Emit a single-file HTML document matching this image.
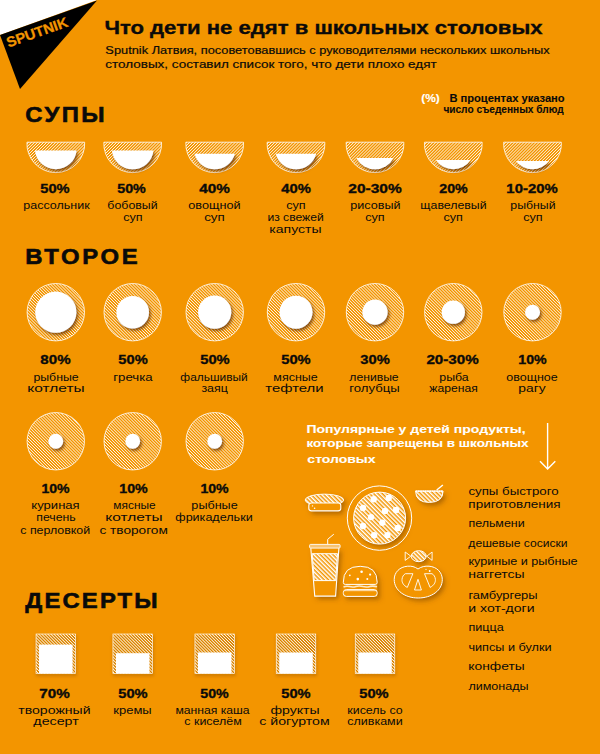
<!DOCTYPE html>
<html><head><meta charset="utf-8"><style>
html,body{margin:0;padding:0;width:600px;height:754px;overflow:hidden;background:#F39500;}
svg{display:block;font-family:"Liberation Sans", sans-serif;}
</style></head><body>
<svg width="600" height="754" viewBox="0 0 600 754"><defs>
<pattern id="hs" width="2.15" height="20" patternUnits="userSpaceOnUse" patternTransform="rotate(45)"><rect x="0" y="0" width="0.65" height="20" fill="#fff"/></pattern>
<pattern id="hb" width="2.15" height="20" patternUnits="userSpaceOnUse" patternTransform="rotate(-45)"><rect x="0" y="0" width="0.65" height="20" fill="#fff"/></pattern>
<pattern id="hb2" width="3" height="20" patternUnits="userSpaceOnUse" patternTransform="rotate(-45)"><rect x="0" y="0" width="1.5" height="20" fill="#fff"/></pattern>
<filter id="sh" x="-50%" y="-50%" width="200%" height="200%"><feDropShadow dx="1.6" dy="2.1" stdDeviation="1.7" flood-color="#6b3500" flood-opacity="0.8"/></filter>
<filter id="sh2" x="-50%" y="-50%" width="200%" height="200%"><feDropShadow dx="0.6" dy="2" stdDeviation="1.5" flood-color="#6b3500" flood-opacity="0.6"/></filter>
<filter id="ish" x="-30%" y="-30%" width="160%" height="160%"><feDropShadow dx="2.5" dy="3" stdDeviation="2.6" flood-color="#6b3500" flood-opacity="0.5"/></filter>
</defs>
<rect x="0" y="0" width="600" height="754" fill="#F39500"/>
<polygon points="0,0 97,0 0,35" fill="#fff"/>
<polygon points="0,35 97,0.5 20,89" fill="#000"/>
<text x="0" y="0" font-size="14.2" font-weight="bold" fill="#F39500" stroke="#F39500" stroke-width="0.3" transform="translate(8.5,47.6) rotate(-19.5)" textLength="64" lengthAdjust="spacingAndGlyphs">SPUTNIK</text>
<path d="M26.94,142.2 L84.66,142.2 A28.9,28.9 0 1 1 26.94,142.2 Z" fill="url(#hs)" stroke="#fff" stroke-width="0.8"/>
<path d="M35.00,150.4 L76.60,150.4 A20.9,20.9 0 0 1 35.00,150.4 Z" fill="#fff" filter="url(#sh)"/>
<path d="M103.84,142.2 L161.56,142.2 A28.9,28.9 0 1 1 103.84,142.2 Z" fill="url(#hs)" stroke="#fff" stroke-width="0.8"/>
<path d="M111.91,150.5 L153.49,150.5 A20.9,20.9 0 0 1 111.91,150.5 Z" fill="#fff" filter="url(#sh)"/>
<path d="M185.84,142.2 L243.56,142.2 A28.9,28.9 0 1 1 185.84,142.2 Z" fill="url(#hs)" stroke="#fff" stroke-width="0.8"/>
<path d="M194.50,153.75 L234.90,153.75 A20.9,20.9 0 0 1 194.50,153.75 Z" fill="#fff" filter="url(#sh)"/>
<path d="M267.14,142.2 L324.86,142.2 A28.9,28.9 0 1 1 267.14,142.2 Z" fill="url(#hs)" stroke="#fff" stroke-width="0.8"/>
<path d="M275.80,153.75 L316.20,153.75 A20.9,20.9 0 0 1 275.80,153.75 Z" fill="#fff" filter="url(#sh)"/>
<path d="M346.14,142.2 L403.86,142.2 A28.9,28.9 0 1 1 346.14,142.2 Z" fill="url(#hs)" stroke="#fff" stroke-width="0.8"/>
<path d="M356.44,158 L393.56,158 A20.9,20.9 0 0 1 356.44,158 Z" fill="#fff" filter="url(#sh)"/>
<path d="M424.44,142.2 L482.16,142.2 A28.9,28.9 0 1 1 424.44,142.2 Z" fill="url(#hs)" stroke="#fff" stroke-width="0.8"/>
<path d="M435.91,160 L470.69,160 A20.9,20.9 0 0 1 435.91,160 Z" fill="#fff" filter="url(#sh)"/>
<path d="M503.64,142.2 L561.36,142.2 A28.9,28.9 0 1 1 503.64,142.2 Z" fill="url(#hs)" stroke="#fff" stroke-width="0.8"/>
<path d="M515.83,161 L549.17,161 A20.9,20.9 0 0 1 515.83,161 Z" fill="#fff" filter="url(#sh)"/>
<circle cx="55.8" cy="312.2" r="28.7" fill="url(#hb)" stroke="#fff" stroke-width="0.8"/>
<circle cx="55.8" cy="312.2" r="20.6" fill="#fff" filter="url(#sh)"/>
<circle cx="132.7" cy="312.2" r="28.7" fill="url(#hb)" stroke="#fff" stroke-width="0.8"/>
<circle cx="132.7" cy="312.2" r="16.3" fill="#fff" filter="url(#sh)"/>
<circle cx="214.7" cy="312.2" r="28.7" fill="url(#hb)" stroke="#fff" stroke-width="0.8"/>
<circle cx="214.7" cy="312.2" r="16.6" fill="#fff" filter="url(#sh)"/>
<circle cx="296.0" cy="312.2" r="28.7" fill="url(#hb)" stroke="#fff" stroke-width="0.8"/>
<circle cx="296.0" cy="312.2" r="16.5" fill="#fff" filter="url(#sh)"/>
<circle cx="375.0" cy="312.2" r="28.7" fill="url(#hb)" stroke="#fff" stroke-width="0.8"/>
<circle cx="375.0" cy="312.2" r="12.6" fill="#fff" filter="url(#sh)"/>
<circle cx="453.3" cy="312.2" r="28.7" fill="url(#hb)" stroke="#fff" stroke-width="0.8"/>
<circle cx="453.3" cy="312.2" r="11.6" fill="#fff" filter="url(#sh)"/>
<circle cx="532.5" cy="312.2" r="28.7" fill="url(#hb)" stroke="#fff" stroke-width="0.8"/>
<circle cx="532.5" cy="312.2" r="7.5" fill="#fff" filter="url(#sh)"/>
<circle cx="55.8" cy="441.25" r="28.7" fill="url(#hb)" stroke="#fff" stroke-width="0.8"/>
<circle cx="55.8" cy="441.25" r="7.4" fill="#fff" filter="url(#sh)"/>
<circle cx="132.7" cy="441.25" r="28.7" fill="url(#hb)" stroke="#fff" stroke-width="0.8"/>
<circle cx="132.7" cy="441.25" r="7.4" fill="#fff" filter="url(#sh)"/>
<circle cx="214.7" cy="441.25" r="28.7" fill="url(#hb)" stroke="#fff" stroke-width="0.8"/>
<circle cx="214.7" cy="441.25" r="7.4" fill="#fff" filter="url(#sh)"/>
<rect x="36.05" y="634" width="39.5" height="39.5" fill="url(#hb)" stroke="#fff" stroke-width="0.6" filter="url(#sh2)"/>
<rect x="39.05" y="644.6" width="33.5" height="28.899999999999977" fill="#fff"/>
<rect x="112.94999999999999" y="634" width="39.5" height="39.5" fill="url(#hb)" stroke="#fff" stroke-width="0.6" filter="url(#sh2)"/>
<rect x="115.94999999999999" y="653.2" width="33.5" height="20.299999999999955" fill="#fff"/>
<rect x="194.95" y="634" width="39.5" height="39.5" fill="url(#hb)" stroke="#fff" stroke-width="0.6" filter="url(#sh2)"/>
<rect x="197.95" y="652.5" width="33.5" height="21.0" fill="#fff"/>
<rect x="276.25" y="634" width="39.5" height="39.5" fill="url(#hb)" stroke="#fff" stroke-width="0.6" filter="url(#sh2)"/>
<rect x="279.25" y="652.5" width="33.5" height="21.0" fill="#fff"/>
<rect x="355.25" y="634" width="39.5" height="39.5" fill="url(#hb)" stroke="#fff" stroke-width="0.6" filter="url(#sh2)"/>
<rect x="358.25" y="652.5" width="33.5" height="21.0" fill="#fff"/>
<path d="M547.6,423 L547.6,469 M540,461.2 L547.6,469 L555.3,461.2" stroke="#fff" stroke-width="1.4" fill="none"/>
<g fill="#F39500" filter="url(#ish)">
 <ellipse cx="324.4" cy="500" rx="19.3" ry="5.9"/>
 <rect x="308.8" y="503" width="32" height="7.9" rx="2.6"/>
 <circle cx="379.6" cy="518.1" r="26"/>
 <path d="M415.6,491 L443.1,491 Q443,502.4 429.3,502.4 Q415.7,502.4 415.6,491 Z"/>
 <path d="M310.8,548.1 L314.75,596.1 L335.6,596.1 L338.9,548.1 Z"/>
 <path d="M343.3,582.4 Q343.1,566.3 360.2,566.3 Q377.3,566.3 377.2,582.4 L377.2,596.4 L343.3,596.4 Z"/>
 <ellipse cx="418.75" cy="556.2" rx="7.5" ry="5.5"/>
 <path d="M418,569 C414.5,566.5 411.5,566 407.7,566.2 C399.5,566.8 394.2,572.5 394.2,579.5 C394.2,590.5 405,598 418.2,598 C431.5,598 442.3,590.5 442.3,579.5 C442.3,572.5 437,566.8 429,566.2 C425,566 421.5,566.5 418,569 Z"/>
</g>
<g>
<g stroke="#fff" stroke-width="0.9" fill="none">
 <!-- hot dog -->
 <ellipse cx="324.4" cy="500" rx="19.3" ry="5.9" fill="url(#hb2)"/>
 <rect x="308.8" y="503" width="32" height="7.9" rx="2.6" fill="#F39500" stroke-width="1.1"/>
 <!-- pizza -->
 <circle cx="379.5" cy="518.1" r="32.2" stroke-width="1"/>
 <circle cx="379.6" cy="518.1" r="26" fill="url(#hb2)" stroke-width="1"/>
 <!-- bowl -->
 <path d="M415.6,491 L443.1,491 Q443,502.4 429.3,502.4 Q415.7,502.4 415.6,491 Z" fill="url(#hb2)" stroke-width="1"/>
 <path d="M415.6,491.3 L443.1,491.3" stroke-width="1.6" stroke-dasharray="1.6,0.7"/>
 <path d="M436.7,490 L442.9,485" stroke-width="1.4"/>
 <!-- cup -->
 <rect x="309.6" y="544.4" width="30.5" height="3.7" rx="1" fill="rgba(255,255,255,0.45)" stroke-width="0.9"/>
 <path d="M310.8,548.1 L314.75,596.1 L335.6,596.1 L338.9,548.1" stroke-width="1.1"/>
 <path d="M312.2,553.7 L337.5,553.7 L335.7,580.6 L314.2,580.6 Z" fill="url(#hb2)" stroke-width="1"/>
 <path d="M327.7,544.4 L327.7,539.3 L333.8,534.2" stroke-width="1"/>
 <!-- burger -->
 <path d="M343.3,582.4 Q343.1,566.3 360.2,566.3 Q377.3,566.3 377.2,582.4 Q377.2,584.4 375.2,584.4 L345.3,584.4 Q343.3,584.4 343.3,582.4 Z" stroke-width="1"/>
 <path d="M343.5,587 Q346.5,585.8 349.5,586.6 Q353,587.6 356,586.4 Q359.5,585.4 363,586.6 Q366.5,587.6 370,586.4 Q373.5,585.6 377,586.8" stroke-width="1.6" stroke="rgba(255,255,255,0.8)"/>
 <rect x="343.3" y="589.6" width="33.9" height="6.8" rx="3" stroke-width="1"/>
 <path d="M344.5,590.6 L376,590.6" stroke-width="1.2" stroke="rgba(255,255,255,0.6)"/>
 <!-- candy -->
 <ellipse cx="418.75" cy="556.2" rx="7.5" ry="5.5" fill="url(#hb2)" stroke-width="1"/>
 <path d="M410.8,556.2 L405.2,552 L405.2,560.4 Z M426.8,556.2 L432.1,552 L432.1,560.4 Z" stroke-width="0.9"/>
 <!-- pretzel -->
 <path d="M418,569 C414.5,566.5 411.5,566 407.7,566.2 C399.5,566.8 394.2,572.5 394.2,579.5 C394.2,590.5 405,598 418.2,598 C431.5,598 442.3,590.5 442.3,579.5 C442.3,572.5 437,566.8 429,566.2 C425,566 421.5,566.5 418,569 Z" stroke-width="1"/>
 <path d="M405.4,573.7 L412.9,573.7 L407.3,587.4 C403.5,585.5 401.8,582.5 402,579.5 C402.2,576.8 403.5,574.7 405.4,573.7 Z" stroke-width="0.9"/>
 <path d="M432,573.7 L424.5,573.7 L430.1,587.4 C433.9,585.5 435.6,582.5 435.4,579.5 C435.2,576.8 433.9,574.7 432,573.7 Z" stroke-width="0.9"/>
 <path d="M418,579.3 L414.5,590 L421.4,590 Z" stroke-width="0.9" stroke-linejoin="round"/>
</g>
<g fill="#fff">
 <circle cx="312.5" cy="505.9" r="0.7"/><circle cx="314.6" cy="508.2" r="0.8"/>
 <circle cx="373.7" cy="499.3" r="3.2"/><circle cx="388.7" cy="498" r="3.2"/><circle cx="363" cy="508" r="3.2"/>
 <circle cx="385" cy="510.9" r="3.2"/><circle cx="396.1" cy="510" r="3.2"/><circle cx="371" cy="517.1" r="3.2"/>
 <circle cx="382.3" cy="522.7" r="3.2"/><circle cx="363" cy="526" r="3.2"/><circle cx="397.7" cy="528" r="3.2"/>
 <circle cx="374.1" cy="535.3" r="3.2"/><circle cx="387.4" cy="535.1" r="3.2"/>
 <circle cx="361.6" cy="571.8" r="1.3"/><circle cx="349.8" cy="575.3" r="0.9"/><circle cx="370.1" cy="574.6" r="1.1"/>
 <circle cx="357.8" cy="579.1" r="1.3"/><circle cx="367.3" cy="579.1" r="1"/>
 <circle cx="426" cy="569.3" r="0.6"/><circle cx="429.7" cy="571" r="0.9"/>
</g>
</g>

<text id="t0" x="104.40" y="34.2" font-size="18.5" font-weight="bold" fill="#0a0a0a" stroke="#0a0a0a" stroke-width="0.35" textLength="438.21" lengthAdjust="spacingAndGlyphs">Что дети не едят в школьных столовых</text>
<text id="t1" x="105.39" y="53.5" font-size="11.5" font-weight="normal" fill="#0a0a0a" stroke="#0a0a0a" stroke-width="0.2" textLength="444.22" lengthAdjust="spacingAndGlyphs">Sputnik Латвия, посоветовавшись с руководителями нескольких школьных</text>
<text id="t2" x="105.38" y="68" font-size="11.5" font-weight="normal" fill="#0a0a0a" stroke="#0a0a0a" stroke-width="0.2" textLength="331.22" lengthAdjust="spacingAndGlyphs">столовых, составил список того, что дети плохо едят</text>
<text id="t3" x="421.26" y="102" font-size="10.5" font-weight="bold" fill="#fff" stroke="#fff" stroke-width="0.1" textLength="18.62" lengthAdjust="spacingAndGlyphs">(%)</text>
<text id="t4" x="449.40" y="101.5" font-size="10" font-weight="bold" fill="#0a0a0a" stroke="#0a0a0a" stroke-width="0.1" textLength="115.21" lengthAdjust="spacingAndGlyphs">В процентах указано</text>
<text id="t5" x="443.40" y="113" font-size="10" font-weight="bold" fill="#0a0a0a" stroke="#0a0a0a" stroke-width="0.1" textLength="120.20" lengthAdjust="spacingAndGlyphs">число съеденных блюд</text>
<g transform="translate(25.35,0) scale(1.06,1)"><text id="t6" x="0" y="121.7" font-size="22.5" font-weight="bold" fill="#0a0a0a" stroke="#0a0a0a" stroke-width="0.6" textLength="74.84" lengthAdjust="spacing">СУПЫ</text></g>
<g transform="translate(25.36,0) scale(1.06,1)"><text id="t7" x="0" y="263.75" font-size="22.5" font-weight="bold" fill="#0a0a0a" stroke="#0a0a0a" stroke-width="0.6" textLength="105.94" lengthAdjust="spacing">ВТОРОЕ</text></g>
<g transform="translate(25.37,0) scale(1.06,1)"><text id="t8" x="0" y="608" font-size="22.5" font-weight="bold" fill="#0a0a0a" stroke="#0a0a0a" stroke-width="0.6" textLength="124.78" lengthAdjust="spacing">ДЕСЕРТЫ</text></g>
<text id="t9" x="40.28" y="193" font-size="13" font-weight="bold" fill="#0a0a0a" stroke="#0a0a0a" stroke-width="0.35" textLength="29.34" lengthAdjust="spacingAndGlyphs">50%</text>
<text id="t10" x="23.38" y="208.75" font-size="10.5" font-weight="normal" fill="#0a0a0a" stroke="#0a0a0a" stroke-width="0.0" textLength="66.27" lengthAdjust="spacingAndGlyphs">рассольник</text>
<text id="t11" x="117.19" y="193" font-size="13" font-weight="bold" fill="#0a0a0a" stroke="#0a0a0a" stroke-width="0.35" textLength="28.63" lengthAdjust="spacingAndGlyphs">50%</text>
<text id="t12" x="107.36" y="208.75" font-size="10.5" font-weight="normal" fill="#0a0a0a" stroke="#0a0a0a" stroke-width="0.0" textLength="50.30" lengthAdjust="spacingAndGlyphs">бобовый</text>
<text id="t13" x="123.19" y="220.5" font-size="10.5" font-weight="normal" fill="#0a0a0a" stroke="#0a0a0a" stroke-width="0.0" textLength="19.39" lengthAdjust="spacingAndGlyphs">суп</text>
<text id="t14" x="199.18" y="193" font-size="13" font-weight="bold" fill="#0a0a0a" stroke="#0a0a0a" stroke-width="0.35" textLength="30.67" lengthAdjust="spacingAndGlyphs">40%</text>
<text id="t15" x="188.29" y="208.75" font-size="10.5" font-weight="normal" fill="#0a0a0a" stroke="#0a0a0a" stroke-width="0.0" textLength="52.36" lengthAdjust="spacingAndGlyphs">овощной</text>
<text id="t16" x="204.20" y="220.5" font-size="10.5" font-weight="normal" fill="#0a0a0a" stroke="#0a0a0a" stroke-width="0.0" textLength="20.59" lengthAdjust="spacingAndGlyphs">суп</text>
<text id="t17" x="281.22" y="193" font-size="13" font-weight="bold" fill="#0a0a0a" stroke="#0a0a0a" stroke-width="0.35" textLength="29.58" lengthAdjust="spacingAndGlyphs">40%</text>
<text id="t18" x="286.23" y="208.75" font-size="10.5" font-weight="normal" fill="#0a0a0a" stroke="#0a0a0a" stroke-width="0.0" textLength="19.50" lengthAdjust="spacingAndGlyphs">суп</text>
<text id="t19" x="267.40" y="220.5" font-size="10.5" font-weight="normal" fill="#0a0a0a" stroke="#0a0a0a" stroke-width="0.0" textLength="56.28" lengthAdjust="spacingAndGlyphs">из свежей</text>
<text id="t20" x="269.38" y="232.75" font-size="10.5" font-weight="normal" fill="#0a0a0a" stroke="#0a0a0a" stroke-width="0.0" textLength="52.22" lengthAdjust="spacingAndGlyphs">капусты</text>
<text id="t21" x="348.36" y="193" font-size="13" font-weight="bold" fill="#0a0a0a" stroke="#0a0a0a" stroke-width="0.35" textLength="53.31" lengthAdjust="spacingAndGlyphs">20-30%</text>
<text id="t22" x="350.34" y="208.75" font-size="10.5" font-weight="normal" fill="#0a0a0a" stroke="#0a0a0a" stroke-width="0.0" textLength="50.26" lengthAdjust="spacingAndGlyphs">рисовый</text>
<text id="t23" x="365.23" y="220.5" font-size="10.5" font-weight="normal" fill="#0a0a0a" stroke="#0a0a0a" stroke-width="0.0" textLength="19.50" lengthAdjust="spacingAndGlyphs">суп</text>
<text id="t24" x="439.31" y="193" font-size="13" font-weight="bold" fill="#0a0a0a" stroke="#0a0a0a" stroke-width="0.35" textLength="28.44" lengthAdjust="spacingAndGlyphs">20%</text>
<text id="t25" x="420.36" y="208.75" font-size="10.5" font-weight="normal" fill="#0a0a0a" stroke="#0a0a0a" stroke-width="0.0" textLength="66.28" lengthAdjust="spacingAndGlyphs">щавелевый</text>
<text id="t26" x="443.42" y="220.5" font-size="10.5" font-weight="normal" fill="#0a0a0a" stroke="#0a0a0a" stroke-width="0.0" textLength="19.39" lengthAdjust="spacingAndGlyphs">суп</text>
<text id="t27" x="506.38" y="193" font-size="13" font-weight="bold" fill="#0a0a0a" stroke="#0a0a0a" stroke-width="0.35" textLength="51.31" lengthAdjust="spacingAndGlyphs">10-20%</text>
<text id="t28" x="510.31" y="208.75" font-size="10.5" font-weight="normal" fill="#0a0a0a" stroke="#0a0a0a" stroke-width="0.0" textLength="45.30" lengthAdjust="spacingAndGlyphs">рыбный</text>
<text id="t29" x="523.16" y="220.5" font-size="10.5" font-weight="normal" fill="#0a0a0a" stroke="#0a0a0a" stroke-width="0.0" textLength="19.50" lengthAdjust="spacingAndGlyphs">суп</text>
<text id="t30" x="40.37" y="364.1" font-size="13" font-weight="bold" fill="#0a0a0a" stroke="#0a0a0a" stroke-width="0.35" textLength="30.28" lengthAdjust="spacingAndGlyphs">80%</text>
<text id="t31" x="33.41" y="380.5" font-size="10.5" font-weight="normal" fill="#0a0a0a" stroke="#0a0a0a" stroke-width="0.0" textLength="45.28" lengthAdjust="spacingAndGlyphs">рыбные</text>
<text id="t32" x="27.34" y="392.3" font-size="10.5" font-weight="normal" fill="#0a0a0a" stroke="#0a0a0a" stroke-width="0.0" textLength="57.26" lengthAdjust="spacingAndGlyphs">котлеты</text>
<text id="t33" x="118.34" y="364.1" font-size="13" font-weight="bold" fill="#0a0a0a" stroke="#0a0a0a" stroke-width="0.35" textLength="29.35" lengthAdjust="spacingAndGlyphs">50%</text>
<text id="t34" x="113.27" y="380.5" font-size="10.5" font-weight="normal" fill="#0a0a0a" stroke="#0a0a0a" stroke-width="0.0" textLength="39.38" lengthAdjust="spacingAndGlyphs">гречка</text>
<text id="t35" x="200.23" y="364.1" font-size="13" font-weight="bold" fill="#0a0a0a" stroke="#0a0a0a" stroke-width="0.35" textLength="29.49" lengthAdjust="spacingAndGlyphs">50%</text>
<text id="t36" x="180.38" y="380.5" font-size="10.5" font-weight="normal" fill="#0a0a0a" stroke="#0a0a0a" stroke-width="0.0" textLength="67.29" lengthAdjust="spacingAndGlyphs">фальшивый</text>
<text id="t37" x="201.40" y="392.3" font-size="10.5" font-weight="normal" fill="#0a0a0a" stroke="#0a0a0a" stroke-width="0.0" textLength="26.36" lengthAdjust="spacingAndGlyphs">заяц</text>
<text id="t38" x="281.23" y="364.1" font-size="13" font-weight="bold" fill="#0a0a0a" stroke="#0a0a0a" stroke-width="0.35" textLength="29.49" lengthAdjust="spacingAndGlyphs">50%</text>
<text id="t39" x="273.39" y="380.5" font-size="10.5" font-weight="normal" fill="#0a0a0a" stroke="#0a0a0a" stroke-width="0.0" textLength="44.29" lengthAdjust="spacingAndGlyphs">мясные</text>
<text id="t40" x="265.24" y="392.3" font-size="10.5" font-weight="normal" fill="#0a0a0a" stroke="#0a0a0a" stroke-width="0.0" textLength="58.40" lengthAdjust="spacingAndGlyphs">тефтели</text>
<text id="t41" x="360.27" y="364.1" font-size="13" font-weight="bold" fill="#0a0a0a" stroke="#0a0a0a" stroke-width="0.35" textLength="29.46" lengthAdjust="spacingAndGlyphs">30%</text>
<text id="t42" x="349.34" y="380.5" font-size="10.5" font-weight="normal" fill="#0a0a0a" stroke="#0a0a0a" stroke-width="0.0" textLength="49.31" lengthAdjust="spacingAndGlyphs">ленивые</text>
<text id="t43" x="349.28" y="392.3" font-size="10.5" font-weight="normal" fill="#0a0a0a" stroke="#0a0a0a" stroke-width="0.0" textLength="50.42" lengthAdjust="spacingAndGlyphs">голубцы</text>
<text id="t44" x="426.41" y="364.1" font-size="13" font-weight="bold" fill="#0a0a0a" stroke="#0a0a0a" stroke-width="0.35" textLength="52.28" lengthAdjust="spacingAndGlyphs">20-30%</text>
<text id="t45" x="439.30" y="380.5" font-size="10.5" font-weight="normal" fill="#0a0a0a" stroke="#0a0a0a" stroke-width="0.0" textLength="29.38" lengthAdjust="spacingAndGlyphs">рыба</text>
<text id="t46" x="429.34" y="392.3" font-size="10.5" font-weight="normal" fill="#0a0a0a" stroke="#0a0a0a" stroke-width="0.0" textLength="48.38" lengthAdjust="spacingAndGlyphs">жареная</text>
<text id="t47" x="518.31" y="364.1" font-size="13" font-weight="bold" fill="#0a0a0a" stroke="#0a0a0a" stroke-width="0.35" textLength="28.40" lengthAdjust="spacingAndGlyphs">10%</text>
<text id="t48" x="506.35" y="380.5" font-size="10.5" font-weight="normal" fill="#0a0a0a" stroke="#0a0a0a" stroke-width="0.0" textLength="51.37" lengthAdjust="spacingAndGlyphs">овощное</text>
<text id="t49" x="518.36" y="392.3" font-size="10.5" font-weight="normal" fill="#0a0a0a" stroke="#0a0a0a" stroke-width="0.0" textLength="27.35" lengthAdjust="spacingAndGlyphs">рагу</text>
<text id="t50" x="41.42" y="493" font-size="13" font-weight="bold" fill="#0a0a0a" stroke="#0a0a0a" stroke-width="0.35" textLength="28.19" lengthAdjust="spacingAndGlyphs">10%</text>
<text id="t51" x="31.35" y="508.9" font-size="10.5" font-weight="normal" fill="#0a0a0a" stroke="#0a0a0a" stroke-width="0.0" textLength="48.32" lengthAdjust="spacingAndGlyphs">куриная</text>
<text id="t52" x="36.27" y="521.3" font-size="10.5" font-weight="normal" fill="#0a0a0a" stroke="#0a0a0a" stroke-width="0.0" textLength="39.39" lengthAdjust="spacingAndGlyphs">печень</text>
<text id="t53" x="20.27" y="534" font-size="10.5" font-weight="normal" fill="#0a0a0a" stroke="#0a0a0a" stroke-width="0.0" textLength="69.91" lengthAdjust="spacingAndGlyphs">с перловкой</text>
<text id="t54" x="119.25" y="493" font-size="13" font-weight="bold" fill="#0a0a0a" stroke="#0a0a0a" stroke-width="0.35" textLength="28.47" lengthAdjust="spacingAndGlyphs">10%</text>
<text id="t55" x="113.34" y="508.9" font-size="10.5" font-weight="normal" fill="#0a0a0a" stroke="#0a0a0a" stroke-width="0.0" textLength="42.28" lengthAdjust="spacingAndGlyphs">мясные</text>
<text id="t56" x="105.36" y="521.3" font-size="10.5" font-weight="normal" fill="#0a0a0a" stroke="#0a0a0a" stroke-width="0.0" textLength="57.30" lengthAdjust="spacingAndGlyphs">котлеты</text>
<text id="t57" x="99.46" y="534" font-size="10.5" font-weight="normal" fill="#0a0a0a" stroke="#0a0a0a" stroke-width="0.0" textLength="68.38" lengthAdjust="spacingAndGlyphs">с творогом</text>
<text id="t58" x="200.40" y="493" font-size="13" font-weight="bold" fill="#0a0a0a" stroke="#0a0a0a" stroke-width="0.35" textLength="28.28" lengthAdjust="spacingAndGlyphs">10%</text>
<text id="t59" x="191.39" y="508.9" font-size="10.5" font-weight="normal" fill="#0a0a0a" stroke="#0a0a0a" stroke-width="0.0" textLength="46.32" lengthAdjust="spacingAndGlyphs">рыбные</text>
<text id="t60" x="175.30" y="521.3" font-size="10.5" font-weight="normal" fill="#0a0a0a" stroke="#0a0a0a" stroke-width="0.0" textLength="77.35" lengthAdjust="spacingAndGlyphs">фрикадельки</text>
<text id="t61" x="39.29" y="697.6" font-size="13" font-weight="bold" fill="#0a0a0a" stroke="#0a0a0a" stroke-width="0.35" textLength="30.47" lengthAdjust="spacingAndGlyphs">70%</text>
<text id="t62" x="18.26" y="713.6" font-size="10.5" font-weight="normal" fill="#0a0a0a" stroke="#0a0a0a" stroke-width="0.0" textLength="72.35" lengthAdjust="spacingAndGlyphs">творожный</text>
<text id="t63" x="33.33" y="725.3" font-size="10.5" font-weight="normal" fill="#0a0a0a" stroke="#0a0a0a" stroke-width="0.0" textLength="45.44" lengthAdjust="spacingAndGlyphs">десерт</text>
<text id="t64" x="118.32" y="697.6" font-size="13" font-weight="bold" fill="#0a0a0a" stroke="#0a0a0a" stroke-width="0.35" textLength="29.36" lengthAdjust="spacingAndGlyphs">50%</text>
<text id="t65" x="113.33" y="713.6" font-size="10.5" font-weight="normal" fill="#0a0a0a" stroke="#0a0a0a" stroke-width="0.0" textLength="38.36" lengthAdjust="spacingAndGlyphs">кремы</text>
<text id="t66" x="200.30" y="697.6" font-size="13" font-weight="bold" fill="#0a0a0a" stroke="#0a0a0a" stroke-width="0.35" textLength="28.48" lengthAdjust="spacingAndGlyphs">50%</text>
<text id="t67" x="175.41" y="713.6" font-size="10.5" font-weight="normal" fill="#0a0a0a" stroke="#0a0a0a" stroke-width="0.0" textLength="74.22" lengthAdjust="spacingAndGlyphs">манная каша</text>
<text id="t68" x="184.37" y="725.3" font-size="10.5" font-weight="normal" fill="#0a0a0a" stroke="#0a0a0a" stroke-width="0.0" textLength="57.35" lengthAdjust="spacingAndGlyphs">с киселём</text>
<text id="t69" x="281.32" y="697.6" font-size="13" font-weight="bold" fill="#0a0a0a" stroke="#0a0a0a" stroke-width="0.35" textLength="29.36" lengthAdjust="spacingAndGlyphs">50%</text>
<text id="t70" x="270.40" y="713.6" font-size="10.5" font-weight="normal" fill="#0a0a0a" stroke="#0a0a0a" stroke-width="0.0" textLength="49.20" lengthAdjust="spacingAndGlyphs">фрукты</text>
<text id="t71" x="259.33" y="725.3" font-size="10.5" font-weight="normal" fill="#0a0a0a" stroke="#0a0a0a" stroke-width="0.0" textLength="70.30" lengthAdjust="spacingAndGlyphs">с йогуртом</text>
<text id="t72" x="359.27" y="697.6" font-size="13" font-weight="bold" fill="#0a0a0a" stroke="#0a0a0a" stroke-width="0.35" textLength="29.35" lengthAdjust="spacingAndGlyphs">50%</text>
<text id="t73" x="347.33" y="713.6" font-size="10.5" font-weight="normal" fill="#0a0a0a" stroke="#0a0a0a" stroke-width="0.0" textLength="55.33" lengthAdjust="spacingAndGlyphs">кисель со</text>
<text id="t74" x="347.32" y="725.3" font-size="10.5" font-weight="normal" fill="#0a0a0a" stroke="#0a0a0a" stroke-width="0.0" textLength="55.35" lengthAdjust="spacingAndGlyphs">сливками</text>
<text id="t75" x="306.40" y="433" font-size="11.5" font-weight="bold" fill="#fff" stroke="#fff" stroke-width="0.1" textLength="219.22" lengthAdjust="spacingAndGlyphs">Популярные у детей продукты,</text>
<text id="t76" x="306.40" y="447" font-size="11.5" font-weight="bold" fill="#fff" stroke="#fff" stroke-width="0.1" textLength="222.22" lengthAdjust="spacingAndGlyphs">которые запрещены в школьных</text>
<text id="t77" x="307.39" y="462.5" font-size="11.5" font-weight="bold" fill="#fff" stroke="#fff" stroke-width="0.1" textLength="68.20" lengthAdjust="spacingAndGlyphs">столовых</text>
<text id="t78" x="468.41" y="495.2" font-size="10.5" font-weight="normal" fill="#0a0a0a" stroke="#0a0a0a" stroke-width="0.0" textLength="90.23" lengthAdjust="spacingAndGlyphs">супы быстрого</text>
<text id="t79" x="468.39" y="507.5" font-size="10.5" font-weight="normal" fill="#0a0a0a" stroke="#0a0a0a" stroke-width="0.0" textLength="92.21" lengthAdjust="spacingAndGlyphs">приготовления</text>
<text id="t80" x="468.40" y="526.7" font-size="10.5" font-weight="normal" fill="#0a0a0a" stroke="#0a0a0a" stroke-width="0.0" textLength="56.28" lengthAdjust="spacingAndGlyphs">пельмени</text>
<text id="t81" x="468.39" y="546.5" font-size="10.5" font-weight="normal" fill="#0a0a0a" stroke="#0a0a0a" stroke-width="0.0" textLength="99.24" lengthAdjust="spacingAndGlyphs">дешевые сосиски</text>
<text id="t82" x="468.40" y="565.2" font-size="10.5" font-weight="normal" fill="#0a0a0a" stroke="#0a0a0a" stroke-width="0.0" textLength="109.23" lengthAdjust="spacingAndGlyphs">куриные и рыбные</text>
<text id="t83" x="468.37" y="578" font-size="10.5" font-weight="normal" fill="#0a0a0a" stroke="#0a0a0a" stroke-width="0.0" textLength="56.30" lengthAdjust="spacingAndGlyphs">наггетсы</text>
<text id="t84" x="468.40" y="599.4" font-size="10.5" font-weight="normal" fill="#0a0a0a" stroke="#0a0a0a" stroke-width="0.0" textLength="69.26" lengthAdjust="spacingAndGlyphs">гамбургеры</text>
<text id="t85" x="468.38" y="611.6" font-size="10.5" font-weight="normal" fill="#0a0a0a" stroke="#0a0a0a" stroke-width="0.0" textLength="66.22" lengthAdjust="spacingAndGlyphs">и хот-доги</text>
<text id="t86" x="468.42" y="631" font-size="10.5" font-weight="normal" fill="#0a0a0a" stroke="#0a0a0a" stroke-width="0.0" textLength="35.32" lengthAdjust="spacingAndGlyphs">пицца</text>
<text id="t87" x="468.40" y="651" font-size="10.5" font-weight="normal" fill="#0a0a0a" stroke="#0a0a0a" stroke-width="0.0" textLength="83.25" lengthAdjust="spacingAndGlyphs">чипсы и булки</text>
<text id="t88" x="468.36" y="670" font-size="10.5" font-weight="normal" fill="#0a0a0a" stroke="#0a0a0a" stroke-width="0.0" textLength="56.34" lengthAdjust="spacingAndGlyphs">конфеты</text>
<text id="t89" x="468.40" y="690" font-size="10.5" font-weight="normal" fill="#0a0a0a" stroke="#0a0a0a" stroke-width="0.0" textLength="60.20" lengthAdjust="spacingAndGlyphs">лимонады</text></svg>
</body></html>
